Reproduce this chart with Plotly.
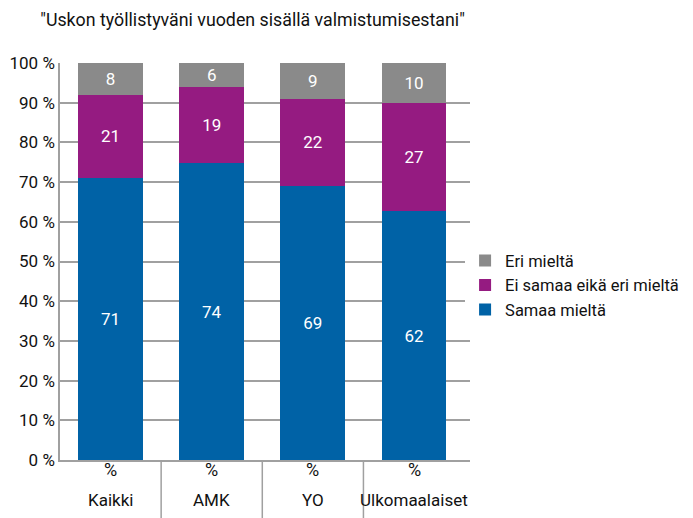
import plotly.graph_objects as go

categories = ["Kaikki", "AMK", "YO", "Ulkomaalaiset"]
samaa = [71, 74, 69, 62]
ei_samaa_eika = [21, 19, 22, 27]
eri = [8, 6, 9, 10]
series_names = ["Samaa mieltä", "Ei samaa eikä eri mieltä", "Eri mieltä"]
colors = ["#0062a6", "#951b81", "#8a8a8a"]
tick_vals = [0, 10, 20, 30, 40, 50, 60, 70, 80, 90, 100]
tick_text = [f"{v} %" for v in tick_vals]
title_text = '"Uskon työllistyväni vuoden sisällä valmistumisestani"'
unit_label = "%"

FONT = "Roboto, Liberation Sans, sans-serif"

fig = go.Figure()
for name, vals, col in zip(series_names, [samaa, ei_samaa_eika, eri], colors):
    fig.add_trace(go.Bar(
        x=categories, y=vals, name=name, marker_color=col,
        marker_line_width=0,
        text=vals, texttemplate="%{text}", textposition="inside",
        insidetextanchor="middle", textangle=0, constraintext="none",
        textfont=dict(color="white", size=17, family=FONT),
        hoverinfo="skip",
    ))

for i in range(len(categories) - 1):
    fig.add_shape(type="line", xref="x", yref="paper",
                  x0=i + 0.5, x1=i + 0.5, y0=0, y1=-0.16,
                  line=dict(color="#a0a0a0", width=1.5))

for c in categories:
    fig.add_annotation(text=unit_label, x=c, xref="x", y=-0.025, yref="paper",
                       yanchor="middle", showarrow=False,
                       font=dict(size=18, family=FONT, color="#111111"))
    fig.add_annotation(text=c, x=c, xref="x", y=-0.101, yref="paper",
                       yanchor="middle", showarrow=False,
                       font=dict(size=17, family=FONT, color="#111111"))

fig.update_layout(
    barmode="stack", barnorm="percent", bargap=0.36,
    width=685, height=510,
    margin=dict(l=52, r=223, t=55, b=58, autoexpand=False),
    paper_bgcolor="white", plot_bgcolor="white",
    font=dict(family=FONT, size=17, color="#111111"),
    title=dict(text=title_text, x=0.047, xanchor="left", y=0.976, yanchor="middle",
               font=dict(size=17.8, family=FONT)),
    legend=dict(traceorder="reversed", x=-0.012, xanchor="left", y=0.44, yanchor="middle",
                font=dict(size=16.5, family=FONT), itemwidth=30, tracegroupgap=0),
    showlegend=True,
    uniformtext=dict(minsize=10, mode="show"),
)
fig.update_yaxes(range=[0, 100], tickvals=tick_vals, ticktext=tick_text,
                 showgrid=True, gridcolor="#a0a0a0", gridwidth=1.5,
                 showline=True, linecolor="#a0a0a0", linewidth=1.5,
                 ticks="", ticklen=0, zeroline=False, automargin=False,
                 tickfont=dict(size=17, family=FONT))
fig.update_xaxes(showticklabels=False, automargin=False,
                 showline=True, linecolor="#a0a0a0", linewidth=1.5,
                 showgrid=False, ticks="")
fig.update_layout(legend_x=0.988)

fig.write_html("out.html")
